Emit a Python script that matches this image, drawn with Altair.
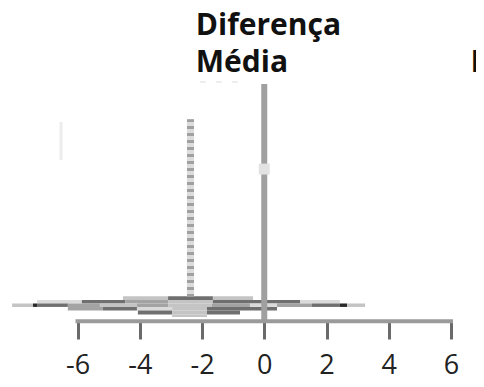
import altair as alt
import pandas as pd

# ---- axis ----
x_ticks = [-6, -4, -2, 0, 2, 4, 6]
axis_start, axis_end = -6, 6

# ---- reference lines ----
zero_line_x = 0
zero_line_top = 7.58
mean_diff_x = -2.37
mean_diff_top = 6.46
mean_diff_bottom = 0.80

# ---- diamond bands (edges in difference units) ----
shade_colors = {"L": "#c4c4c4", "L2": "#dadada", "M": "#a3a3a3", "D": "#6f6f6f", "K": "#2a2a2a"}

row_a_edges = [-4.54, -3.09, -1.65, -0.36]
row_a_shades = ["L", "D", "L"]
row_a_span = [0.70, 0.82]

row_b_edges = [-7.30, -5.86, -4.47, -3.09, -1.65, 1.15, 2.43]
row_b_shades = ["L2", "D", "M", "L", "D", "L2"]
row_b_span = [0.59, 0.70]

row_c_edges = [-8.10, -7.43, -7.30, -6.31, -5.28, -4.09, -3.09, -1.68, -0.46, 0.41, 1.53, 2.43, 2.66, 3.24]
row_c_shades = ["L", "K", "D", "M", "L", "M", "L", "M", "L2", "M", "D", "K", "L"]
row_c_span = [0.48, 0.59]

row_d_edges = [-6.31, -5.18, -4.09, -2.96, -1.84, 0.41]
row_d_shades = ["M", "D", "L2", "L", "D"]
row_d_span = [0.37, 0.48]

row_e_edges = [-4.06, -2.96, -1.84, -0.78]
row_e_shades = ["D", "L", "D"]
row_e_span = [0.24, 0.37]

row_f_edges = [-2.96, -1.84]
row_f_shades = ["L"]
row_f_span = [0.16, 0.24]

# ---- headings ----
heading_lines = ["Diferença", "Média"]
heading_x = -2.2
heading_y = [9.14, 7.96]
clipped_label = "IC"
clipped_label_x = 6.627

# faint marks near the top
faint_top_x = [-2.07, -0.84]
faint_top_y = 7.64

rows = [
    (row_a_edges, row_a_shades, row_a_span),
    (row_b_edges, row_b_shades, row_b_span),
    (row_c_edges, row_c_shades, row_c_span),
    (row_d_edges, row_d_shades, row_d_span),
    (row_e_edges, row_e_shades, row_e_span),
    (row_f_edges, row_f_shades, row_f_span),
]
recs = []
for edges, shades, span in rows:
    for i, s in enumerate(shades):
        recs.append({"x0": edges[i], "x1": edges[i + 1], "y0": span[0], "y1": span[1],
                     "c": shade_colors[s]})
band_df = pd.DataFrame(recs)

xs = alt.Scale(domain=[-8.233, 6.803], nice=False, zero=False)
ys = alt.Scale(domain=[0, 10], nice=False, zero=False)

label_expr = "datum.value < 0 ? '-' + (-datum.value) : '' + datum.value"
x_axis = alt.Axis(
    values=x_ticks, domain=False, grid=False, tickSize=17, tickWidth=3,
    tickColor="#6a6a6a", labelFontSize=27, labelFont="Open Sans",
    labelColor="#222222", labelPadding=13, labelExpr=label_expr,
    labelOverlap=False, labelFlush=False, title=None)


def X(field):
    return alt.X(field, scale=xs, axis=x_axis)


def Y(field):
    return alt.Y(field, scale=ys, axis=None)


bands = alt.Chart(band_df).mark_rect().encode(
    x=X("x0:Q"), x2="x1:Q", y=Y("y0:Q"), y2="y1:Q",
    color=alt.Color("c:N", scale=None),
)

axis_df = pd.DataFrame({"a": [axis_start], "b": [axis_end], "y": [0.02]})
axis_line = alt.Chart(axis_df).mark_rule(color="#9a9a9a", strokeWidth=4, strokeCap="square").encode(
    x=X("a:Q"), x2="b:Q", y=Y("y:Q"))

zero_df = pd.DataFrame({"x": [zero_line_x], "y0": [0], "y1": [zero_line_top]})
zero_line = alt.Chart(zero_df).mark_rule(color="#a0a0a0", strokeWidth=6).encode(
    x=X("x:Q"), y=Y("y0:Q"), y2="y1:Q")

mean_df = pd.DataFrame({"x": [mean_diff_x], "y0": [mean_diff_bottom], "y1": [mean_diff_top]})
mean_light = alt.Chart(mean_df).mark_rule(color="#dcdcdc", strokeWidth=7).encode(
    x=X("x:Q"), y=Y("y0:Q"), y2="y1:Q")
mean_dash = alt.Chart(mean_df).mark_rule(color="#a0a0a0", strokeWidth=7, strokeDash=[3, 4]).encode(
    x=X("x:Q"), y=Y("y0:Q"), y2="y1:Q")

marker_df = pd.DataFrame({"x": [0], "y": [4.87]})
marker = alt.Chart(marker_df).mark_square(color="#e2e2e2", size=120, opacity=1).encode(
    x=X("x:Q"), y=Y("y:Q"))

faint_df = pd.DataFrame({"x": [-6.53], "y0": [5.16], "y1": [6.37]})
faint = alt.Chart(faint_df).mark_rule(color="#ececec", strokeWidth=3).encode(
    x=X("x:Q"), y=Y("y0:Q"), y2="y1:Q")

faint_top_df = pd.DataFrame({"a": [faint_top_x[0]], "b": [faint_top_x[1]], "y": [faint_top_y]})
faint_top = alt.Chart(faint_top_df).mark_rule(color="#eeeeee", strokeWidth=2, strokeDash=[6, 10]).encode(
    x=X("a:Q"), x2="b:Q", y=Y("y:Q"))

head_df = pd.DataFrame({"t": heading_lines + [clipped_label],
                        "x": [heading_x, heading_x, clipped_label_x],
                        "y": heading_y + [heading_y[1]]})
heads = alt.Chart(head_df).mark_text(
    align="left", baseline="alphabetic", font="Open Sans", fontWeight="bold",
    fontSize=30, color="#111111").encode(
    x=X("x:Q"), y=Y("y:Q"), text="t:N")

chart = alt.layer(bands, faint, faint_top, mean_light, mean_dash, zero_line, marker, axis_line, heads).properties(
    width=468, height=314,
    autosize=alt.AutoSizeParams(type="none"),
    padding={"left": 0, "top": 0, "right": 0, "bottom": 57},
).configure_view(stroke=None)

chart.save("out.html", embed_options={"renderer": "svg", "actions": False})
